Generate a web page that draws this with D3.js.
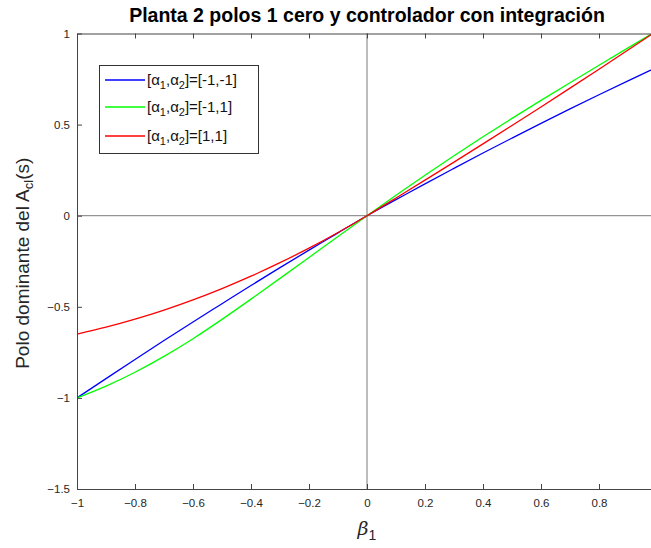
<!DOCTYPE html>
<html>
<head>
<meta charset="utf-8">
<script src="https://cdn.jsdelivr.net/npm/d3@7"></script>
<style>
  body { margin: 0; background: #fff; }
  svg { display: block; }
  text { font-family: "Liberation Sans", Arial, Helvetica, sans-serif; }
</style>
</head>
<body>
<svg id="chart" width="651" height="548"></svg>
<script>
// β1 sweep and dominant closed-loop pole for each (α1, α2) combination
const beta1 = [-1, -0.9, -0.8, -0.7, -0.6, -0.5, -0.4, -0.3, -0.2, -0.1, 0,
               0.1, 0.2, 0.3, 0.4, 0.5, 0.6, 0.7, 0.8, 0.9, 1];
const poleMinus1Minus1 = [-1.000, -0.894, -0.789, -0.685, -0.583, -0.483, -0.383, -0.285, -0.189, -0.094, 0,
                          0.088, 0.175, 0.260, 0.344, 0.426, 0.507, 0.586, 0.664, 0.740, 0.815];
const poleMinus1Plus1  = [-1.000, -0.935, -0.859, -0.772, -0.675, -0.569, -0.458, -0.344, -0.229, -0.114, 0,
                          0.112, 0.222, 0.329, 0.433, 0.534, 0.633, 0.730, 0.826, 0.921, 1.015];
const polePlus1Plus1   = [-0.650, -0.612, -0.568, -0.518, -0.462, -0.400, -0.332, -0.258, -0.178, -0.092, 0,
                          0.097, 0.195, 0.294, 0.394, 0.495, 0.597, 0.700, 0.804, 0.909, 1.015];

const alphaPairs = [["-1", "-1"], ["-1", "1"], ["1", "1"]];
const seriesColors = ["#0000ff", "#00ff00", "#ff0000"];
const seriesValues = [poleMinus1Minus1, poleMinus1Plus1, polePlus1Plus1];

const xTicks = [-1, -0.8, -0.6, -0.4, -0.2, 0, 0.2, 0.4, 0.6, 0.8];
const yTicks = [-1.5, -1, -0.5, 0, 0.5, 1];

const titleText = "Planta 2 polos 1 cero y controlador con integración";

const svg = d3.select("#chart");
const plot = { left: 77, right: 657, top: 33.5, bottom: 489 };

const x = d3.scaleLinear().domain([-1, 1]).range([plot.left, plot.right]);
const y = d3.scaleLinear().domain([-1.5, 1]).range([plot.bottom, plot.top]);

svg.append("defs").append("clipPath").attr("id", "plotClip")
  .append("rect")
  .attr("x", plot.left).attr("y", plot.top)
  .attr("width", plot.right - plot.left).attr("height", plot.bottom - plot.top);

// zero reference lines
const refs = svg.append("g").attr("stroke", "#7a7a7a").attr("stroke-width", 1);
refs.append("line")
  .attr("x1", x(-1)).attr("x2", x(1)).attr("y1", y(0)).attr("y2", y(0));
refs.append("line")
  .attr("x1", x(0)).attr("x2", x(0)).attr("y1", y(-1.5)).attr("y2", y(1));

// curves
const line = d3.line()
  .x((d, i) => x(beta1[i]))
  .y(d => y(d))
  .curve(d3.curveNatural);

const curves = svg.append("g").attr("clip-path", "url(#plotClip)");
seriesValues.forEach((vals, k) => {
  curves.append("path")
    .datum(vals)
    .attr("fill", "none")
    .attr("stroke", seriesColors[k])
    .attr("stroke-width", 1.3)
    .attr("d", line);
});

// axes (box with inward ticks)
const fmt = d => d3.format("")(d);
const axisColor = "#444";

function styleAxis(g) {
  g.selectAll(".domain").attr("stroke", axisColor).attr("stroke-width", 1);
  g.selectAll(".tick line").attr("stroke", axisColor).attr("stroke-width", 1);
  g.selectAll(".tick text").attr("fill", "#262626").style("font-size", "11.5px")
    .style("font-family", '"Liberation Sans", Arial, sans-serif');
}

svg.append("g")
  .attr("transform", `translate(0,${plot.bottom})`)
  .call(d3.axisBottom(x).tickValues(xTicks).tickFormat(fmt)
        .tickSizeInner(-5).tickSizeOuter(0).tickPadding(10))
  .call(styleAxis);

svg.append("g")
  .attr("transform", `translate(0,${plot.top})`)
  .call(d3.axisTop(x).tickValues(xTicks).tickFormat("")
        .tickSizeInner(-5).tickSizeOuter(0))
  .call(styleAxis);

svg.append("g")
  .attr("transform", `translate(${plot.left},0)`)
  .call(d3.axisLeft(y).tickValues(yTicks).tickFormat(fmt)
        .tickSizeInner(-5).tickSizeOuter(0).tickPadding(7))
  .call(styleAxis);

// title
svg.append("text")
  .attr("x", (plot.left + plot.right) / 2)
  .attr("y", 22)
  .attr("text-anchor", "middle")
  .attr("font-weight", "bold")
  .attr("font-size", 19.5)
  .attr("fill", "#000")
  .text(titleText);

// x label: β1
const xl = svg.append("text")
  .attr("x", (plot.left + plot.right) / 2)
  .attr("y", 535)
  .attr("text-anchor", "middle")
  .attr("fill", "#262626")
  .attr("font-size", 19);
xl.append("tspan").attr("font-style", "italic")
  .attr("font-family", '"DejaVu Serif", "Liberation Serif", serif').text("β");
xl.append("tspan").attr("dy", 5).attr("font-size", 14).text("1");

// y label: Polo dominante del A_cl(s)
const yl = svg.append("text")
  .attr("transform", `translate(29,${(plot.top + plot.bottom) / 2 + 2}) rotate(-90)`)
  .attr("text-anchor", "middle")
  .attr("fill", "#262626")
  .attr("font-size", 19);
yl.append("tspan").text("Polo dominante del A");
yl.append("tspan").attr("dy", 4).attr("font-size", 13).text("cl");
yl.append("tspan").attr("dy", -4).text("(s)");

// legend
const legend = svg.append("g");
legend.append("rect")
  .attr("x", 99.5).attr("y", 65.5).attr("width", 159).attr("height", 88)
  .attr("fill", "#fff").attr("stroke", "#333").attr("stroke-width", 1);

const rowY = [80, 107, 136];
alphaPairs.forEach((p, k) => {
  legend.append("line")
    .attr("x1", 105).attr("x2", 145)
    .attr("y1", rowY[k]).attr("y2", rowY[k])
    .attr("stroke", seriesColors[k]).attr("stroke-width", 1.3);
  const t = legend.append("text")
    .attr("x", 147).attr("y", rowY[k] + 5)
    .attr("font-size", 15).attr("fill", "#111");
  t.append("tspan").text("[α");
  t.append("tspan").attr("dy", 4).attr("font-size", 11).text("1");
  t.append("tspan").attr("dy", -4).text(",α");
  t.append("tspan").attr("dy", 4).attr("font-size", 11).text("2");
  t.append("tspan").attr("dy", -4).text(`]=[${p[0]},${p[1]}]`);
});
</script>
</body>
</html>
